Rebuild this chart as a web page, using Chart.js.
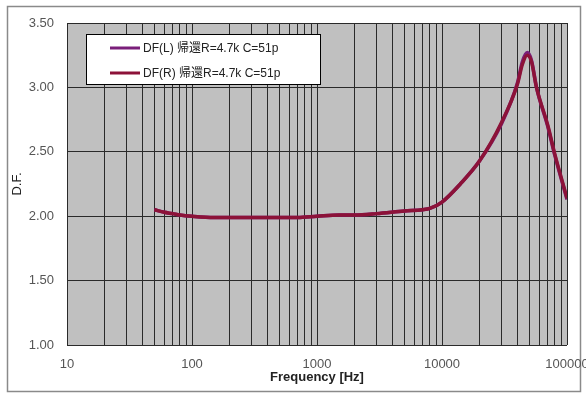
<!DOCTYPE html>
<html>
<head>
<meta charset="utf-8">
<script src="https://cdn.jsdelivr.net/npm/chart.js@4.4.1/dist/chart.umd.min.js"></script>
<style>
  html, body { margin: 0; padding: 0; background: #ffffff; }
  #wrap { width: 586px; height: 393px; position: relative; }
</style>
</head>
<body>
<div id="wrap"><canvas id="dfChart"></canvas></div>
<script>
// ---- data ----
var freqs = [50, 60, 70, 80, 100, 150, 200, 300, 500, 700, 1000, 1500, 2000, 3000, 5000, 7000, 8000, 10000, 14000, 20000, 30000, 40000, 44000, 48000, 52000, 57000, 70000, 80000, 100000];
var dfL   = [2.05, 2.03, 2.02, 2.01, 2.00, 1.99, 1.99, 1.99, 1.99, 1.99, 2.00, 2.01, 2.01, 2.02, 2.04, 2.05, 2.06, 2.11, 2.25, 2.43, 2.72, 3.03, 3.20, 3.27, 3.21, 3.00, 2.70, 2.47, 2.13];
var dfR   = [2.05, 2.03, 2.02, 2.01, 2.00, 1.99, 1.99, 1.99, 1.99, 1.99, 2.00, 2.01, 2.01, 2.02, 2.04, 2.05, 2.06, 2.11, 2.25, 2.43, 2.73, 3.02, 3.18, 3.25, 3.20, 3.00, 2.71, 2.48, 2.14];
var seriesLabels = ["DF(L) 帰還R=4.7k C=51p", "DF(R) 帰還R=4.7k C=51p"];
var xTickLabels = ["10", "100", "1000", "10000", "100000"];
var yTicks = [1.0, 1.5, 2.0, 2.5, 3.0, 3.5];

var colL = "#7a1f7a";
var colR = "#8c1238";

// every 1..9 x decade gets a grid line, only the decades get a label
var xGrid = [];
for (var d = 1; d < 5; d++) {
  for (var m = 1; m < 10; m++) xGrid.push(m * Math.pow(10, d));
}
xGrid.push(100000);

function pts(ys) {
  return freqs.map(function (f, i) { return { x: f, y: ys[i] }; });
}

// ---- plot background, frame and legend ----
var decor = {
  id: "decor",
  beforeDraw: function (chart) {
    var ctx = chart.ctx, a = chart.chartArea;
    ctx.save();
    ctx.fillStyle = "#c0c0c0";
    ctx.fillRect(a.left, a.top, a.right - a.left, a.bottom - a.top);
    ctx.strokeStyle = "#8a8a8a";
    ctx.lineWidth = 1.5;
    ctx.strokeRect(7.5, 6.5, 573, 385);
    ctx.restore();
  },
  afterDatasetsDraw: function (chart) {
    var ctx = chart.ctx;
    ctx.save();
    ctx.fillStyle = "#ffffff";
    ctx.fillRect(86, 34, 235, 51);
    ctx.strokeStyle = "#000000";
    ctx.lineWidth = 1;
    ctx.strokeRect(86.5, 34.5, 234, 50);
    var rows = [48, 73];
    chart.data.datasets.slice().sort(function (p, q) { return p.legendIdx - q.legendIdx; }).forEach(function (ds, i) {
      ctx.strokeStyle = ds.borderColor;
      ctx.lineWidth = 3;
      ctx.beginPath();
      ctx.moveTo(110, rows[i]);
      ctx.lineTo(140, rows[i]);
      ctx.stroke();
      ctx.fillStyle = "#222";
      ctx.font = "12px 'Liberation Sans', 'Noto Sans CJK JP', sans-serif";
      ctx.textBaseline = "middle";
      ctx.fillText(ds.label, 143, rows[i] + 1);
    });
    ctx.restore();
  }
};

new Chart(document.getElementById("dfChart"), {
  type: "line",
  data: {
    datasets: [
      {
        label: seriesLabels[1],
        legendIdx: 1,
        data: pts(dfR),
        borderColor: colR,
        borderWidth: 3.5,
        pointRadius: 0,
        cubicInterpolationMode: "monotone",
        fill: false,
        order: 0
      },
      {
        label: seriesLabels[0],
        legendIdx: 0,
        data: pts(dfL),
        borderColor: colL,
        borderWidth: 3.5,
        pointRadius: 0,
        cubicInterpolationMode: "monotone",
        fill: false,
        order: 1
      }
    ]
  },
  options: {
    responsive: true,
    maintainAspectRatio: false,
    animation: false,
    layout: { padding: { left: 8, top: 23, right: 19, bottom: 8 } },
    plugins: {
      legend: { display: false },
      tooltip: { enabled: false }
    },
    scales: {
      x: {
        type: "logarithmic",
        min: 10,
        max: 100000,
        afterBuildTicks: function (scale) {
          scale.ticks = xGrid.map(function (v) { return { value: v }; });
        },
        afterFit: function (scale) {
          scale.height = 40;
          scale.paddingLeft = 0;
          scale.paddingRight = 0;
        },
        ticks: {
          autoSkip: false,
          maxRotation: 0,
          padding: 12,
          color: "#555",
          font: { family: "'Liberation Sans', Arial, sans-serif", size: 13 },
          callback: function (v) {
            var s = String(v);
            return xTickLabels.indexOf(s) >= 0 ? s : "";
          }
        },
        grid: { color: "#2a2a2a", lineWidth: 1, drawTicks: false },
        border: { display: false },
        title: {
          display: true,
          text: "Frequency [Hz]",
          color: "#222",
          padding: { top: 0, bottom: 0 },
          font: { family: "'Liberation Sans', Arial, sans-serif", size: 13, weight: "bold" }
        }
      },
      y: {
        min: 1,
        max: 3.5,
        afterBuildTicks: function (scale) {
          scale.ticks = yTicks.map(function (v) { return { value: v }; });
        },
        afterFit: function (scale) {
          scale.width = 59;
          scale.paddingTop = 0;
          scale.paddingBottom = 0;
        },
        ticks: {
          padding: 13,
          color: "#555",
          font: { family: "'Liberation Sans', Arial, sans-serif", size: 13 },
          callback: function (v) { return Number(v).toFixed(2); }
        },
        grid: { color: "#2a2a2a", lineWidth: 1, drawTicks: false },
        border: { display: false },
        title: {
          display: true,
          text: "D.F.",
          color: "#222",
          padding: { top: 2, bottom: 0 },
          font: { family: "'Liberation Sans', Arial, sans-serif", size: 13 }
        }
      }
    }
  },
  plugins: [decor]
});
</script>
</body>
</html>
